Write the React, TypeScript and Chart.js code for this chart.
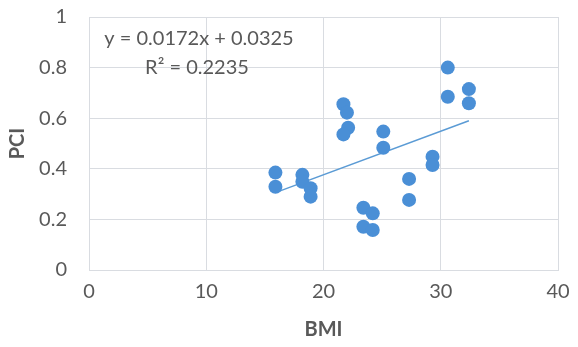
import React, { useEffect, useRef } from "react";
import { Chart, registerables } from "chart.js";

Chart.register(...registerables);

const bmiValues = [15.9, 15.9, 18.2, 18.2, 18.9, 18.9, 21.7, 22.0, 22.1, 21.7, 25.1, 25.1, 23.4, 24.2, 23.4, 24.2, 27.3, 27.3, 29.3, 29.3, 30.6, 30.6, 32.4, 32.4];
const pciValues = [0.385, 0.329, 0.376, 0.349, 0.323, 0.29, 0.655, 0.622, 0.562, 0.536, 0.547, 0.483, 0.246, 0.224, 0.171, 0.158, 0.36, 0.277, 0.448, 0.415, 0.8, 0.685, 0.715, 0.659];
const trendX = [15.9, 32.4];
const trendY = [0.306, 0.590];
const equationText = "y = 0.0172x + 0.0325";
const r2Text = "R² = 0.2235";
const xTicks = [0, 10, 20, 30, 40];
const yTicks = [0, 0.2, 0.4, 0.6, 0.8, 1];

const FONT = "Lato, 'Open Sans', sans-serif";
const TEXT = "#595959";
const GRID = "#d9dce1";
const BLUE = "#4a8fd6";
const FS = 20;

const annotationPlugin = {
  id: "annot",
  afterDatasetsDraw(chart: any) {
    const { ctx } = chart;
    ctx.save();
    ctx.fillStyle = TEXT;
    ctx.font = `${FS}px ${FONT}`;
    ctx.textAlign = "center";
    ctx.textBaseline = "middle";
    ctx.fillText(equationText, 199, 39);
    ctx.fillText(r2Text, 197, 68);
    ctx.restore();
  },
};

export default function App() {
  const ref = useRef<HTMLCanvasElement>(null);
  useEffect(() => {
    const chart = new Chart(ref.current!, {
      type: "scatter",
      data: {
        datasets: [
          {
            type: "line",
            data: trendX.map((x, i) => ({ x, y: trendY[i] })),
            borderColor: "#5b9bd5",
            borderWidth: 1.5,
            pointRadius: 0,
            fill: false,
            order: 2,
          } as any,
          {
            data: bmiValues.map((x, i) => ({ x, y: pciValues[i] })),
            backgroundColor: BLUE,
            borderColor: BLUE,
            borderWidth: 0,
            pointRadius: 7,
            order: 1,
          },
        ],
      },
      options: {
        animation: false,
        responsive: true,
        maintainAspectRatio: false,
        layout: { padding: { top: 17, right: 20, left: 0, bottom: 0 } },
        plugins: { legend: { display: false }, tooltip: { enabled: false } },
        scales: {
          x: {
            type: "linear",
            min: 0,
            max: 40,
            afterBuildTicks: (s: any) => {
              s.ticks = xTicks.map((v) => ({ value: v }));
            },
            afterFit: (s: any) => {
              s.height = 77;
              s.paddingLeft = 0;
              s.paddingRight = 0;
              s.paddingTop = 0;
              s.paddingBottom = 0;
            },
            grid: { color: GRID, drawTicks: false },
            border: { color: GRID },
            ticks: { color: TEXT, font: { family: FONT, size: FS }, padding: 10, callback: (v: any) => String(v) },
            title: {
              display: true,
              text: "BMI",
              color: TEXT,
              font: { family: FONT, size: FS, weight: "bold" },
              padding: { top: 0, bottom: 5 },
            },
          },
          y: {
            type: "linear",
            min: 0,
            max: 1,
            afterBuildTicks: (s: any) => {
              s.ticks = yTicks.map((v) => ({ value: v }));
            },
            afterFit: (s: any) => {
              s.width = 89;
              s.paddingLeft = 0;
              s.paddingRight = 0;
              s.paddingTop = 0;
              s.paddingBottom = 0;
            },
            grid: { color: GRID, drawTicks: false },
            border: { color: GRID },
            ticks: { color: TEXT, font: { family: FONT, size: FS }, padding: 22, callback: (v: any) => String(v) },
            title: {
              display: true,
              text: "PCI",
              color: TEXT,
              font: { family: FONT, size: FS, weight: "bold" },
              padding: { top: 6, bottom: 0 },
            },
          },
        },
      },
      plugins: [annotationPlugin],
    } as any);
    return () => chart.destroy();
  }, []);
  return (
    <div style={{ position: "fixed", left: 0, top: 0, width: 578, height: 347, background: "#fff" }}>
      <canvas ref={ref} />
    </div>
  );
}
